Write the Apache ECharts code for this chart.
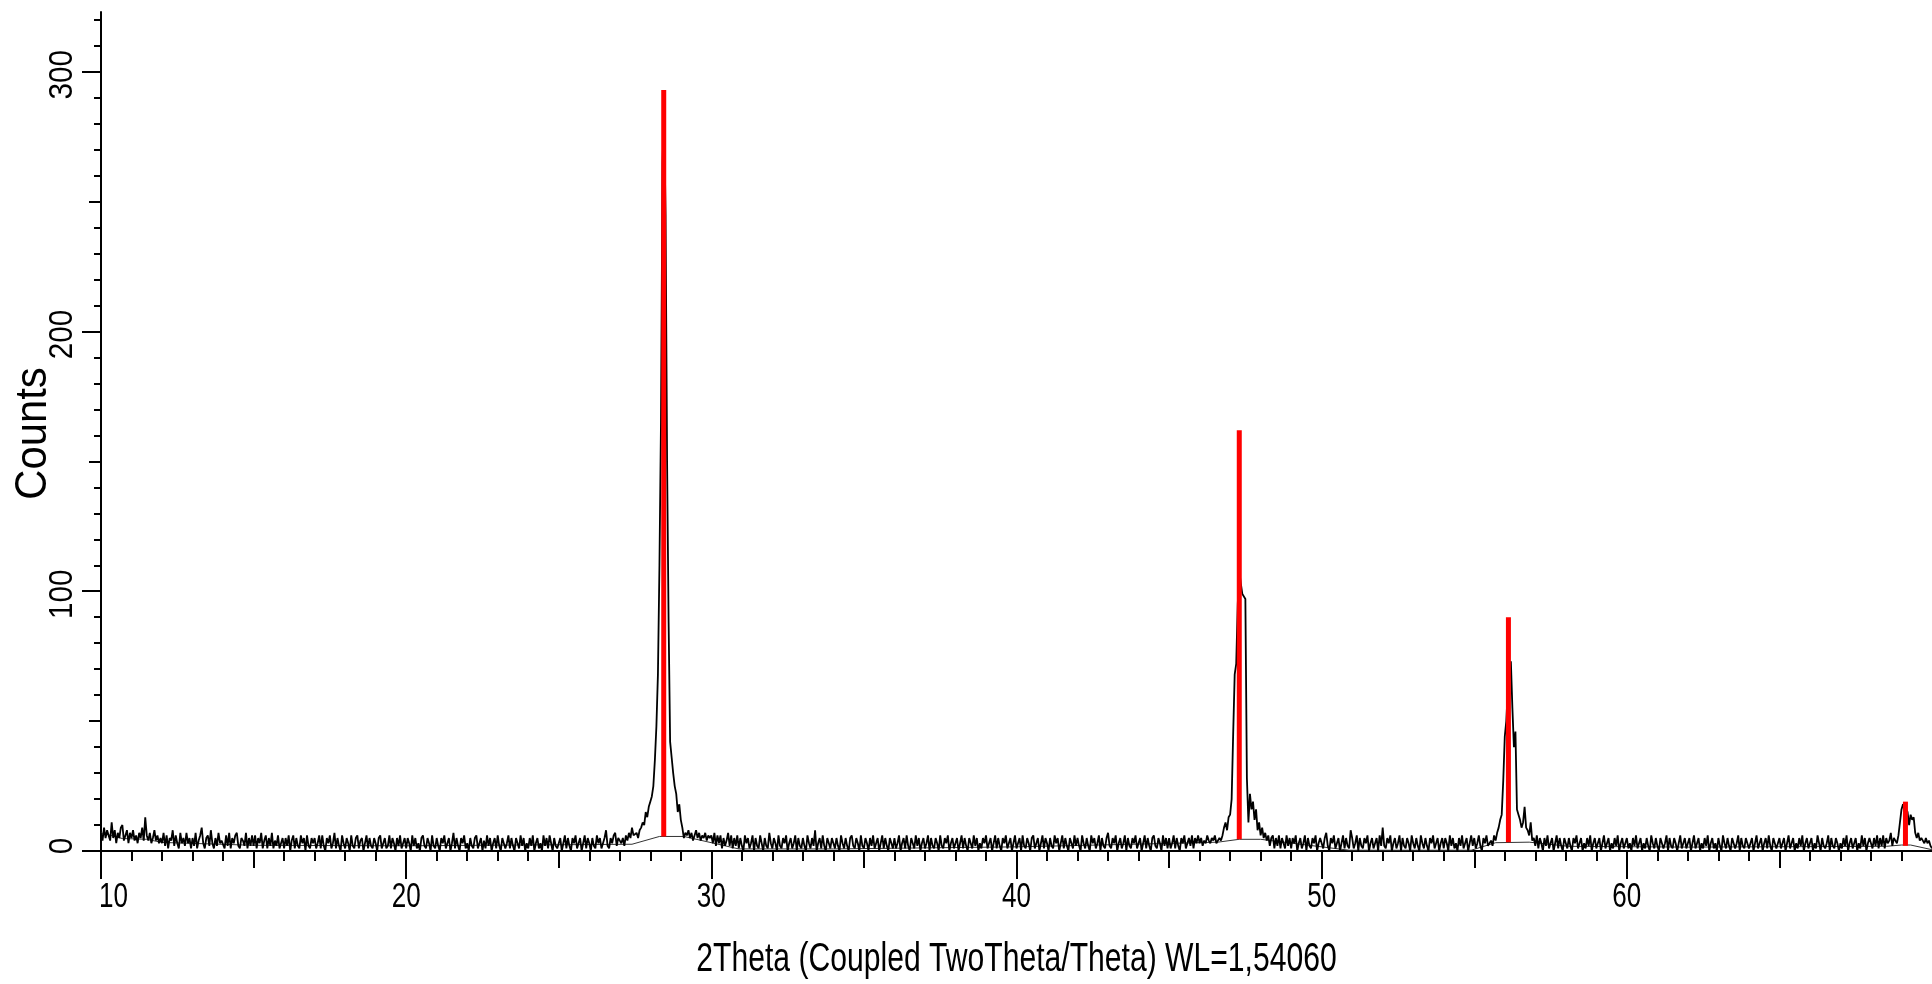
<!DOCTYPE html>
<html><head><meta charset="utf-8">
<script src="https://cdn.jsdelivr.net/npm/echarts@6/dist/echarts.min.js"></script>
<style>html,body{margin:0;padding:0;background:#fff}#c{width:1932px;height:984px}</style>
</head><body><div id="c"></div>
<script>
// Measured pattern: 2Theta grid start / step, and counts at each step
const thetaStart = 10, thetaStep = 0.05;
const counts = [
7,4,9,5,8,6,4,11,5,8,3,7,5,9,10,4,6,8,3,7,
5,8,4,6,3,7,5,9,4,13,6,4,7,3,5,8,4,6,3,5,
3,7,2,6,1,5,4,8,2,6,3,1,7,3,5,2,7,3,5,1,
5,2,7,1,4,6,9,3,1,5,6,2,8,3,1,5,2,7,3,4,
4,1,6,2,7,1,5,3,6,7,2,1,5,4,2,7,1,5,2,6,
2,6,1,5,3,7,1,4,6,1,5,2,7,1,4,2,6,1,3,5,
1,5,2,6,0,4,6,1,5,2,1,6,3,5,0,6,2,1,5,3,
5,1,3,6,1,6,2,0,5,3,6,1,3,7,1,5,2,0,6,3,
1,5,3,0,6,2,1,5,6,1,4,5,0,3,6,1,5,2,1,5,
3,0,5,6,1,3,5,1,2,6,1,5,3,0,5,2,6,1,3,5,
1,5,3,0,6,2,5,1,3,0,5,6,2,1,5,3,0,6,2,1,
5,2,0,5,3,6,1,3,5,0,3,7,1,5,2,0,5,3,6,1,
3,0,5,2,1,5,6,1,3,5,0,4,1,6,2,5,0,3,5,1,
6,2,0,5,3,1,3,6,1,5,2,0,5,3,1,6,2,5,0,3,
1,5,2,6,0,3,5,1,3,0,6,2,5,1,6,3,0,5,2,1,
3,5,0,3,6,1,5,2,0,5,3,6,1,3,5,0,3,6,1,5,
3,0,5,2,1,6,3,5,1,3,5,8,2,1,5,3,6,7,2,5,
4,3,5,2,6,4,7,5,9,6,6,7,5,8,9,11,10,15,13,17,
19,21,25,35,48,68,110,165,265,285,245,150,88,42,36,30,25,22,15,18,
12,9,5,7,6,8,5,7,4,6,8,5,7,4,6,5,7,4,6,5,
6,3,7,2,6,3,6,1,5,2,4,7,2,6,1,5,2,6,1,5,
2,0,6,3,5,1,3,6,0,5,2,1,6,3,0,5,2,1,7,3,
1,5,3,0,6,2,1,5,3,6,0,3,5,1,3,6,0,5,2,1,
5,2,0,6,3,1,5,2,8,0,3,5,1,6,2,0,5,3,1,5,
3,1,5,2,0,6,3,1,5,2,0,5,6,2,1,5,3,0,6,2,
1,5,3,0,5,2,6,1,3,5,0,3,6,1,5,2,0,5,3,1,
5,1,3,6,0,3,5,1,6,2,0,5,3,1,6,2,5,0,3,5,
1,3,6,0,5,2,1,5,3,0,6,2,1,5,3,6,0,3,5,1,
3,5,0,3,6,1,5,2,0,5,3,1,6,2,5,0,3,1,5,3,
6,1,3,5,0,3,6,1,5,2,0,5,3,6,1,3,5,0,3,6,
1,3,5,0,6,2,1,5,3,0,5,6,1,3,5,0,3,6,1,5,
3,0,5,2,1,6,3,5,0,3,6,1,5,2,0,5,3,1,6,2,
5,2,0,6,3,1,5,2,0,6,3,5,1,3,6,0,5,2,1,5,
7,2,1,5,3,6,0,3,5,1,3,6,0,5,2,1,5,3,6,1,
3,5,0,3,6,1,5,2,0,5,6,2,1,5,3,0,6,2,5,1,
5,1,3,6,1,5,2,0,5,3,6,1,3,5,2,6,1,5,3,6,
3,5,2,4,3,6,4,3,5,4,6,3,4,5,4,6,9,11,8,13,
14,20,45,68,72,95,108,103,99,99,97,28,11,22,16,19,12,16,8,11,
6,9,5,7,4,6,2,5,6,1,5,2,6,1,5,3,1,6,2,5,
1,5,3,6,0,3,5,1,3,6,0,5,2,1,5,3,6,0,3,5,
3,1,5,7,2,0,5,3,6,1,3,5,0,3,6,1,5,2,1,8,
5,1,3,6,0,5,2,1,5,3,6,0,3,5,1,3,5,0,6,2,
9,2,1,5,3,6,0,3,5,1,3,6,0,5,2,1,5,3,0,6,
3,1,5,2,0,6,3,1,5,2,0,5,3,6,1,3,5,0,3,5,
1,5,3,0,6,2,5,1,3,0,5,2,6,1,3,5,0,3,6,2,
5,1,3,6,2,0,5,3,6,2,3,4,2,6,4,7,9,12,14,27,
44,50,62,66,73,55,40,46,16,14,12,9,11,17,9,8,6,11,4,5,
2,6,1,5,3,0,5,2,6,1,3,5,0,3,6,1,5,2,0,5,
3,1,5,2,0,5,3,6,1,3,5,0,3,1,5,2,6,0,3,5,
1,3,5,0,3,6,1,3,5,0,3,1,5,2,6,0,3,5,1,3,
5,1,3,0,5,2,6,1,3,5,0,3,1,5,2,0,6,3,1,5,
2,0,5,3,1,3,6,0,5,2,1,5,3,0,3,6,1,3,5,1,
3,5,0,3,6,1,3,5,0,3,1,5,2,6,0,3,5,1,3,0,
5,2,0,6,3,1,5,2,0,5,3,1,3,6,0,5,2,1,5,3,
1,3,5,0,3,6,1,3,5,0,3,5,1,6,2,0,5,3,1,3,
5,1,3,5,0,3,6,1,3,5,0,3,1,5,2,6,0,3,5,1,
3,5,0,3,1,6,3,0,5,2,1,3,6,0,5,2,1,5,3,0,
3,1,5,2,6,0,3,5,1,3,5,0,3,1,6,2,5,0,3,5,
3,1,5,2,6,1,5,2,6,1,5,3,4,7,2,5,4,3,6,11,
16,18,17,16,15,10,14,12,13,7,5,7,4,5,4,3,5,3,4,2,
1
];
// Background (thin) curve
const bgTheta  = [10.0, 10.7, 11.5, 12.0, 15.0, 20.0, 27.4, 28.3, 29.1, 30.9, 34.0, 40.0, 45.3, 46.6, 47.3, 48.0, 50.9, 54.9, 55.7, 56.8, 58.1, 62.0, 68.5, 69.0, 69.3, 70.0];
const bgCounts = [7.0, 4.8, 4.5, 3.3, 2.2, 2.0, 2.6, 5.6, 5.6, 0.8, 0.8, 1.6, 3.0, 3.4, 4.5, 4.5, 0.3, 0.3, 3.2, 3.4, 1.8, 1.5, 1.8, 2.3, 2.3, 0.5];
// Reference pattern sticks (red)
const refTheta  = [28.44, 47.30, 56.12, 69.13];
const refCounts = [293, 162, 90, 19];
const refBase   = [5.6, 4.5, 3.4, 2.0];
// Ticks
const xMajorTicks = [10, 20, 30, 40, 50, 60];
const xMidTicks   = [15, 25, 35, 45, 55, 65];
const xMinorTicks = [11,12,13,14,16,17,18,19,21,22,23,24,26,27,28,29,31,32,33,34,36,37,38,39,41,42,43,44,46,47,48,49,51,52,53,54,56,57,58,59,61,62,63,64,66,67,68,69];
const yMajorTicks = [0, 100, 200, 300];
const yMidTicks   = [50, 150, 250];
const yMinorTicks = [10,20,30,40,60,70,80,90,110,120,130,140,160,170,180,190,210,220,230,240,260,270,280,290,310,320];
const xTitle = '2Theta (Coupled TwoTheta/Theta) WL=1,54060';
const yTitle = 'Counts';

const FONT = "'Liberation Sans', Arial, sans-serif";
const pattern = counts.map((c, i) => [+(thetaStart + i * thetaStep).toFixed(2), c]);
const bg = bgTheta.map((t, i) => [t, bgCounts[i]]);
const sticks = refTheta.map((t, i) => [t, refCounts[i], refBase[i]]);

const axLine = {color: '#000', width: 2};
function xAx(extra) {
  return Object.assign({type: 'value', min: 10, max: 70, position: 'bottom', offset: 0,
    splitLine: {show: false}, axisLine: {show: false}, axisLabel: {show: false}}, extra);
}
function yAx(extra) {
  return Object.assign({type: 'value', min: 0, max: 323, position: 'left', offset: 0,
    splitLine: {show: false}, axisLine: {show: false}, axisLabel: {show: false}}, extra);
}
const chart = echarts.init(document.getElementById('c'), null, {renderer: 'canvas'});
chart.setOption({
  animation: false,
  backgroundColor: '#fff',
  grid: {left: 101, right: 0, top: 12, bottom: 133, containLabel: false, outerBoundsMode: 'none'},
  xAxis: [
    xAx({axisLine: {show: true, onZero: false, lineStyle: axLine},
      axisTick: {show: true, inside: false, length: 28, customValues: xMajorTicks, lineStyle: axLine}}),
    xAx({axisTick: {show: true, inside: false, length: 17, customValues: xMidTicks, lineStyle: axLine}}),
    xAx({axisTick: {show: true, inside: false, length: 10, customValues: xMinorTicks, lineStyle: axLine}})
  ],
  yAxis: [
    yAx({axisLine: {show: true, onZero: false, lineStyle: axLine},
      axisTick: {show: true, inside: false, length: 19, customValues: yMajorTicks, lineStyle: axLine}}),
    yAx({axisTick: {show: true, inside: false, length: 12, customValues: yMidTicks, lineStyle: axLine}}),
    yAx({axisTick: {show: true, inside: false, length: 7, customValues: yMinorTicks, lineStyle: axLine}})
  ],
  series: [
    {type: 'line', name: 'background', data: bg, showSymbol: false, symbol: 'none',
      lineStyle: {color: '#333', width: 1}, z: 2, silent: true},
    {type: 'line', name: 'pattern', data: pattern, showSymbol: false, symbol: 'none',
      lineStyle: {color: '#000', width: 1.8}, z: 3, silent: true},
    {type: 'custom', name: 'reference', data: sticks, z: 4, silent: true,
      encode: {x: 0, y: [1, 2]},
      renderItem: function (params, api) {
        const top = api.coord([api.value(0), api.value(1)]);
        const bot = api.coord([api.value(0), api.value(2)]);
        return {type: 'rect', shape: {x: top[0] - 2.5, y: top[1], width: 5, height: bot[1] - top[1]},
          style: {fill: '#ff0000'}};
      }}
  ]
});

// Condensed axis texts, placed through the axes' own scales
const px = v => chart.convertToPixel({xAxisIndex: 0}, v);
const py = v => chart.convertToPixel({yAxisIndex: 0}, v);
const texts = [];
xMajorTicks.forEach((v, i) => texts.push({
  type: 'text', x: i === 0 ? px(v) - 2 : px(v), y: 897, scaleX: 0.745, silent: true,
  style: {text: String(v), fontSize: 35, fontFamily: FONT, fill: '#000',
    align: i === 0 ? 'left' : 'center', verticalAlign: 'middle'}
}));
yMajorTicks.forEach(v => texts.push({
  type: 'text', x: 63, y: py(v) + (v === 0 ? -5 : 3), rotation: Math.PI / 2, scaleX: 0.9, silent: true,
  style: {text: String(v), fontSize: 33, fontFamily: FONT, fill: '#000', align: 'center', verticalAlign: 'middle'}
}));
texts.push({
  type: 'text', x: px(40), y: 960, scaleX: 0.753, silent: true,
  style: {text: xTitle, fontSize: 40, fontFamily: FONT, fill: '#000', align: 'center', verticalAlign: 'middle'}
});
texts.push({
  type: 'text', x: 33.5, y: py(0) + (py(yMajorTicks[3] + 23) - py(0)) / 2 + 2, rotation: Math.PI / 2, scaleX: 0.93, silent: true,
  style: {text: yTitle, fontSize: 45, fontFamily: FONT, fill: '#000', align: 'center', verticalAlign: 'middle'}
});
chart.setOption({graphic: texts});
</script></body></html>
